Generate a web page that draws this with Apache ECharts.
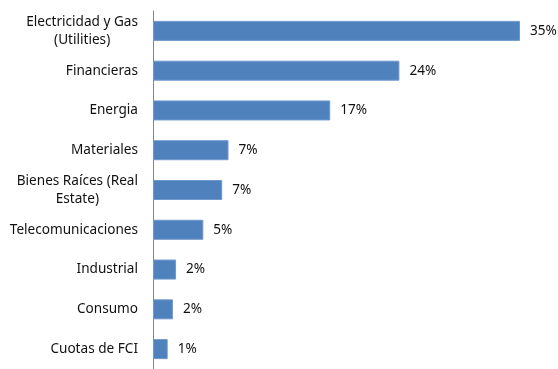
<!DOCTYPE html>
<html>
<head>
<meta charset="utf-8">
<script src="https://cdn.jsdelivr.net/npm/echarts@6/dist/echarts.min.js"></script>
<style>
  html, body { margin: 0; padding: 0; background: #fff; }
  #chart { width: 558px; height: 369px; }
</style>
</head>
<body>
<div id="chart"></div>
<script>
// sectores, de mayor a menor
const sectores = [
  'Electricidad y Gas\n(Utilities)',
  'Financieras',
  'Energia',
  'Materiales',
  'Bienes Raíces (Real\nEstate)',
  'Telecomunicaciones',
  'Industrial',
  'Consumo',
  'Cuotas de FCI'
]
const porcentajes = [35, 23.5, 16.9, 7.2, 6.6, 4.8, 2.2, 1.9, 1.4]

const chart = echarts.init(document.getElementById('chart'))

chart.setOption({
  animation: false,
  backgroundColor: '#fff',
  textStyle: { fontFamily: 'Noto Sans' },
  grid: { left: 153, right: 38, top: 11, bottom: -2 },
  xAxis: {
    type: 'value',
    min: 0,
    max: 35,
    show: false
  },
  yAxis: {
    type: 'category',
    inverse: true,
    data: sectores,
    axisLine: { lineStyle: { color: '#868686', width: 1 } },
    axisTick: { length: 5, lineStyle: { color: '#868686' } },
    axisLabel: {
      margin: 15,
      color: '#111',
      fontSize: 13.6,
      lineHeight: 18,
      formatter: (v) => v.split('\n').map(l => '{c|' + l + '}').join('\n'),
      rich: { c: { align: 'center', fontSize: 13.6, lineHeight: 18, color: '#111' } }
    }
  },
  series: [{
    type: 'bar',
    data: porcentajes,
    barWidth: 20,
    itemStyle: { color: '#4F81BD', borderColor: '#6f98cc', borderWidth: 1 },
    label: {
      show: true,
      position: 'right',
      distance: 10,
      color: '#111',
      fontSize: 13.6,
      formatter: (p) => Math.round(p.value) + '%'
    }
  }]
})
</script>
</body>
</html>
